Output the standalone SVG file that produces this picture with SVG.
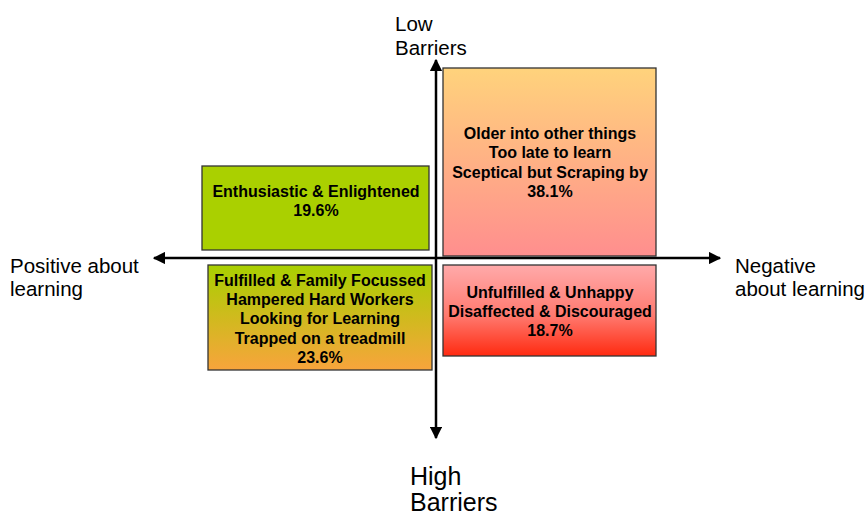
<svg xmlns="http://www.w3.org/2000/svg" width="868" height="517" viewBox="0 0 868 517">
<style>
.box{stroke:#333;stroke-width:1.3}
.bt{font-family:"Liberation Sans",Arial,sans-serif;font-weight:bold;font-size:16px;fill:#000;text-anchor:middle}
.lbl{font-family:"Liberation Sans",Arial,sans-serif;font-size:20.5px;fill:#000}
.big{font-family:"Liberation Sans",Arial,sans-serif;font-size:25px;fill:#000}
.ax{stroke:#000;stroke-width:2.5;fill:none}
</style>
<defs>
<linearGradient id="gTR" x1="0" y1="0" x2="0" y2="1"><stop offset="0" stop-color="#FFD37C"/><stop offset="1" stop-color="#FF8E8E"/></linearGradient>
<linearGradient id="gBL" x1="0" y1="0" x2="0" y2="1"><stop offset="0" stop-color="#A8D000"/><stop offset="1" stop-color="#F8A43C"/></linearGradient>
<linearGradient id="gBR" x1="0" y1="0" x2="0" y2="1"><stop offset="0" stop-color="#FFAAAA"/><stop offset="0.55" stop-color="#FF7A70"/><stop offset="1" stop-color="#FF2A10"/></linearGradient>
<marker id="ah" viewBox="0 0 10 10" refX="9" refY="5" markerWidth="5" markerHeight="5" orient="auto-start-reverse" markerUnits="strokeWidth"><path d="M0,0 L10,5 L0,10 z" fill="#000"/></marker>
</defs>
<g id="node-enthusiastic">
<rect class="box" x="202" y="166" width="227" height="84" fill="#AAD000"/>
<text class="bt" x="316" y="197">Enthusiastic &amp; Enlightened</text>
<text class="bt" x="316" y="216">19.6%</text>
</g>
<g id="node-older">
<rect class="box" x="443" y="68" width="213" height="188" fill="url(#gTR)"/>
<text class="bt" x="550" y="139">Older into other things</text>
<text class="bt" x="550" y="158">Too late to learn</text>
<text class="bt" x="550" y="178">Sceptical but Scraping by</text>
<text class="bt" x="550" y="197">38.1%</text>
</g>
<g id="node-fulfilled">
<rect class="box" x="208" y="265" width="224" height="105" fill="url(#gBL)"/>
<text class="bt" x="320" y="286">Fulfilled &amp; Family Focussed</text>
<text class="bt" x="320" y="305">Hampered Hard Workers</text>
<text class="bt" x="320" y="324">Looking for Learning</text>
<text class="bt" x="320" y="344">Trapped on a treadmill</text>
<text class="bt" x="320" y="363">23.6%</text>
</g>
<g id="node-unfulfilled">
<rect class="box" x="443" y="265" width="213" height="91" fill="url(#gBR)"/>
<text class="bt" x="550" y="298">Unfulfilled &amp; Unhappy</text>
<text class="bt" x="550" y="317">Disaffected &amp; Discouraged</text>
<text class="bt" x="550" y="336">18.7%</text>
</g>
<g id="connectors">
<line class="ax" x1="436" y1="258" x2="436" y2="60" marker-end="url(#ah)"/>
<line class="ax" x1="436" y1="258" x2="436" y2="438" marker-end="url(#ah)"/>
<line class="ax" x1="436" y1="258" x2="154" y2="258" marker-end="url(#ah)"/>
<line class="ax" x1="436" y1="258" x2="720" y2="258" marker-end="url(#ah)"/>
</g>
<g id="labels">
<text class="lbl" x="395" y="31">Low</text>
<text class="lbl" x="395" y="55">Barriers</text>
<text class="lbl" x="10" y="273">Positive about</text>
<text class="lbl" x="10" y="296">learning</text>
<text class="lbl" x="735" y="273">Negative</text>
<text class="lbl" x="735" y="296">about learning</text>
<text class="big" x="410" y="485">High</text>
<text class="big" x="410" y="511">Barriers</text>
</g>
</svg>
